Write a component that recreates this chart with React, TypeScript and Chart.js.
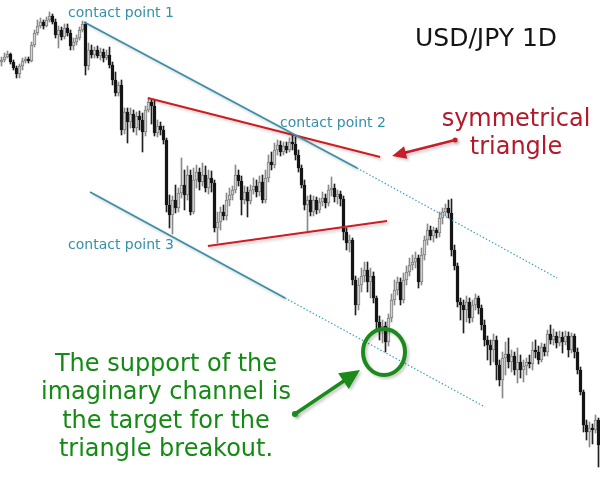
import { useEffect, useRef } from 'react';
import { Chart, registerables } from 'chart.js';
Chart.register(...registerables);

// Candle levels (vertical level, top = 0, larger = lower price)
const opens = [62,60,57,54,62,68,74,66,61,59,61,45,33,26,22,26,20,16,22,35,30,37,28,33,46,42,38,30,24,66,50,55,50,56,52,58,55,65,80,93,85,130,112,122,114,128,116,120,132,110,102,106,133,126,130,140,205,215,200,208,193,185,195,175,212,180,172,182,175,188,178,183,228,222,212,216,200,195,190,175,181,200,192,201,190,186,192,182,200,178,162,165,150,145,152,146,150,142,144,155,168,185,205,200,212,200,210,202,198,203,190,188,197,194,199,232,243,240,280,305,285,276,270,282,276,298,322,330,326,342,318,300,290,282,300,280,272,265,262,258,282,255,240,230,236,230,233,218,212,208,213,250,266,302,305,310,302,318,305,298,308,325,340,345,350,340,365,380,358,354,362,356,370,362,370,366,362,364,350,352,360,347,352,334,340,336,343,337,342,336,350,336,352,370,392,425,432,428,430,420];
const highs = [57,53,51,53,60,66,64,58,57,57,42,30,20,18,20,17,12,14,19,26,27,24,24,30,38,35,27,21,22,43,45,47,46,48,49,50,47,62,72,82,80,108,108,108,110,112,111,113,106,98,99,100,120,122,126,138,195,196,185,188,158,170,166,170,168,165,168,163,166,170,171,180,212,207,205,193,188,186,165,170,176,186,187,185,178,180,176,175,170,155,152,143,140,141,142,142,138,134,137,150,165,180,196,195,196,197,198,192,194,185,177,184,190,191,196,228,235,238,276,278,268,262,262,268,272,296,316,320,322,314,294,280,277,278,273,266,258,255,252,255,248,236,224,226,227,228,212,208,204,200,199,245,263,298,300,296,298,300,294,296,305,320,336,340,334,336,360,352,342,338,350,352,348,355,360,358,355,342,340,346,343,344,330,325,329,332,331,332,331,332,333,334,348,367,390,420,422,424,415,418];
const lows = [66,62,58,64,70,78,78,70,63,63,62,47,35,28,29,27,22,24,38,48,40,39,36,50,50,45,40,32,75,70,58,58,58,60,62,60,68,85,96,96,135,134,143,128,132,135,130,152,136,112,124,136,137,135,144,212,228,234,213,212,198,210,200,215,214,188,190,186,192,194,192,232,243,230,220,220,206,200,193,186,215,204,217,204,194,197,196,203,203,182,170,168,155,156,155,153,152,150,160,172,188,210,231,216,216,214,213,206,208,206,196,202,204,206,240,250,252,285,315,310,292,282,292,298,303,330,340,343,352,346,322,305,295,305,303,285,276,270,268,288,285,260,245,240,242,238,237,224,216,218,256,270,307,320,333,322,323,322,310,314,330,346,360,365,362,380,386,398,375,368,372,375,383,378,382,375,368,370,358,364,362,356,356,344,345,348,346,353,345,357,353,358,374,395,432,440,447,444,433,467];
const closes = [60,57,54,62,68,74,66,61,59,61,45,33,26,22,26,20,16,22,35,30,37,28,33,46,42,38,30,24,66,50,55,50,56,52,58,55,65,80,93,85,130,112,122,114,128,116,120,132,110,102,106,133,126,130,140,205,215,200,208,193,185,195,175,212,180,172,182,175,188,178,183,228,222,212,216,200,195,190,175,181,200,192,201,190,186,192,182,200,178,162,165,150,145,152,146,150,142,144,155,168,185,205,200,212,200,210,202,198,203,190,188,197,194,199,232,243,240,280,305,285,276,270,282,276,298,322,330,326,342,318,300,290,282,300,280,272,265,262,258,282,255,240,230,236,230,233,218,212,208,213,250,266,302,305,310,302,318,305,298,308,325,340,345,350,340,365,380,358,354,362,356,370,362,370,366,362,364,350,352,360,347,352,334,340,336,343,337,342,336,350,336,352,370,392,425,432,428,430,420,445];

// Trend lines: [candle index, level]
const upperChannelSolid = [[27.5, 22], [118.5, 168]];
const upperChannelDotted = [[118.5, 168], [185.2, 278]];
const lowerChannelSolid = [[29.5, 192], [94.5, 298]];
const lowerChannelDotted = [[94.5, 298], [161.2, 407]];
const triangleTop = [[48.8, 98], [126.2, 157]];
const triangleBottom = [[68.8, 246], [128.5, 221]];

// Annotation anchors: [candle index, level]
const redArrow = [[151.2, 140], [130.2, 156]];
const greenArrow = [[97.8, 414], [119.5, 370]];
const targetCircle = [127.5, 352];

const contactLabels = ['contact point 1', 'contact point 2', 'contact point 3'];
const titleText = 'USD/JPY 1D';
const triangleLabel = ['symmetrical', 'triangle'];
const noteLines = ['The support of the', 'imaginary channel is', 'the target for the', 'triangle breakout.'];

const BEAR = '#151515';
const BULL_FILL = '#d2d2d2';
const BULL_EDGE = '#7e7e7e';
const TEAL = '#3a8ea6';
const TEAL_DOT = '#3f9fc0';
const RED = '#cc1d22';
const GREEN = '#1a8a1a';

const toXY = (pts: number[][]) => pts.map(([x, y]) => ({ x, y }));

function drawArrow(ctx: CanvasRenderingContext2D, x1: number, y1: number, x2: number, y2: number, color: string, lw: number, headLen: number, headHalf: number, dotR: number) {
  const ang = Math.atan2(y2 - y1, x2 - x1);
  const bx = x2 - Math.cos(ang) * headLen;
  const by = y2 - Math.sin(ang) * headLen;
  ctx.strokeStyle = color;
  ctx.fillStyle = color;
  ctx.lineWidth = lw;
  ctx.lineCap = 'round';
  ctx.beginPath();
  ctx.moveTo(x1, y1);
  ctx.lineTo(bx, by);
  ctx.stroke();
  ctx.beginPath();
  ctx.moveTo(x2, y2);
  ctx.lineTo(bx + Math.sin(ang) * headHalf, by - Math.cos(ang) * headHalf);
  ctx.lineTo(bx - Math.sin(ang) * headHalf, by + Math.cos(ang) * headHalf);
  ctx.closePath();
  ctx.fill();
  ctx.beginPath();
  ctx.arc(x1, y1, dotR, 0, Math.PI * 2);
  ctx.fill();
}

const shadowPlugin = {
  id: 'lineShadow',
  beforeDatasetDraw(chart: any, args: any) {
    const ds = chart.data.datasets[args.index];
    if (ds.shadow) {
      const ctx = chart.ctx;
      ctx.save();
      ctx.shadowColor = 'rgba(0,0,0,0.22)';
      ctx.shadowBlur = 3;
      ctx.shadowOffsetX = 2;
      ctx.shadowOffsetY = 2;
    }
  },
  afterDatasetDraw(chart: any, args: any) {
    const ds = chart.data.datasets[args.index];
    if (ds.shadow) chart.ctx.restore();
  },
};

const annotationPlugin = {
  id: 'annotations',
  afterDatasetsDraw(chart: any) {
    const ctx: CanvasRenderingContext2D = chart.ctx;
    const xs = chart.scales.x;
    const ys = chart.scales.y;
    const px = (v: number) => xs.getPixelForValue(v);
    const py = (v: number) => ys.getPixelForValue(v);
    ctx.save();

    ctx.shadowColor = 'rgba(0,0,0,0.22)';
    ctx.shadowBlur = 3;
    ctx.shadowOffsetX = 2;
    ctx.shadowOffsetY = 2;
    ctx.strokeStyle = GREEN;
    ctx.lineWidth = 4;
    ctx.beginPath();
    ctx.ellipse(px(targetCircle[0]), py(targetCircle[1]), 21, 23, 0, 0, Math.PI * 2);
    ctx.stroke();
    drawArrow(ctx, px(redArrow[0][0]), py(redArrow[0][1]), px(redArrow[1][0]), py(redArrow[1][1]), '#c41f2a', 2.5, 14, 6.5, 2.5);
    drawArrow(ctx, px(greenArrow[0][0]), py(greenArrow[0][1]), px(greenArrow[1][0]), py(greenArrow[1][1]), GREEN, 3.5, 20, 9.5, 3);
    ctx.shadowColor = 'transparent';
    ctx.shadowBlur = 0;
    ctx.shadowOffsetX = 0;
    ctx.shadowOffsetY = 0;

    ctx.textBaseline = 'alphabetic';
    ctx.textAlign = 'left';
    ctx.fillStyle = '#3590aa';
    ctx.font = '14px "DejaVu Sans"';
    ctx.fillText(contactLabels[0], 68, 17);
    ctx.fillText(contactLabels[1], 280, 127);
    ctx.fillText(contactLabels[2], 68, 249);

    ctx.fillStyle = '#141414';
    ctx.font = '25px "DejaVu Sans"';
    ctx.fillText(titleText, 415, 46);

    ctx.textAlign = 'center';
    ctx.fillStyle = '#b3192b';
    ctx.font = '24px "DejaVu Sans"';
    ctx.fillText(triangleLabel[0], 516, 126);
    ctx.fillText(triangleLabel[1], 516, 154);

    ctx.fillStyle = '#148a14';
    ctx.font = '24px "DejaVu Sans"';
    noteLines.forEach((t, k) => ctx.fillText(t, 166, 371 + k * 28.3));
    ctx.restore();
  },
};

export default function App() {
  const ref = useRef<HTMLCanvasElement | null>(null);
  useEffect(() => {
    if (!ref.current) return;
    const n = closes.length;
    const isBear = closes.map((c, i) => c > opens[i]);
    const lineDs = (pts: number[][], color: string, width: number, dash: number[] | undefined, shadow: boolean) => ({
      type: 'line' as const,
      data: toXY(pts),
      borderColor: color,
      borderWidth: width,
      borderDash: dash || [],
      pointRadius: 0,
      fill: false,
      tension: 0,
      shadow,
    });
    const chart = new Chart(ref.current, {
      type: 'bar',
      data: {
        datasets: [
          {
            type: 'bar',
            data: highs.map((h, i) => ({ x: i, y: [h, lows[i]] })) as any,
            backgroundColor: isBear.map((b) => (b ? '#202020' : '#8a8a8a')),
            barThickness: 1,
            grouped: false,
            order: 2,
          },
          {
            type: 'bar',
            data: opens.map((o, i) => ({ x: i, y: [o, closes[i]] })) as any,
            backgroundColor: isBear.map((b) => (b ? BEAR : BULL_FILL)),
            borderColor: isBear.map((b) => (b ? BEAR : BULL_EDGE)),
            borderWidth: 1,
            borderSkipped: false,
            barThickness: 3,
            minBarLength: 1,
            grouped: false,
            order: 1,
          },
          lineDs(upperChannelSolid, TEAL, 1.8, undefined, true),
          lineDs(upperChannelDotted, TEAL_DOT, 1.2, [1.5, 2], false),
          lineDs(lowerChannelSolid, TEAL, 1.8, undefined, true),
          lineDs(lowerChannelDotted, TEAL_DOT, 1.2, [1.5, 2], false),
          lineDs(triangleTop, RED, 2, undefined, true),
          lineDs(triangleBottom, RED, 2, undefined, true),
        ] as any,
      },
      options: {
        animation: false,
        responsive: false,
        devicePixelRatio: 1,
        events: [],
        layout: { padding: 0 },
        plugins: { legend: { display: false }, tooltip: { enabled: false } },
        scales: {
          x: { type: 'linear', min: -0.5, max: n - 0.5, display: false, offset: false },
          y: { type: 'linear', min: 0, max: 477, reverse: true, display: false },
        },
      },
      plugins: [shadowPlugin, annotationPlugin],
    });
    return () => chart.destroy();
  }, []);
  return (
    <div style={{ position: 'absolute', left: 0, top: 0, width: 600, height: 477, background: '#fff' }}>
      <canvas ref={ref} width={600} height={477} style={{ display: 'block' }} />
    </div>
  );
}
